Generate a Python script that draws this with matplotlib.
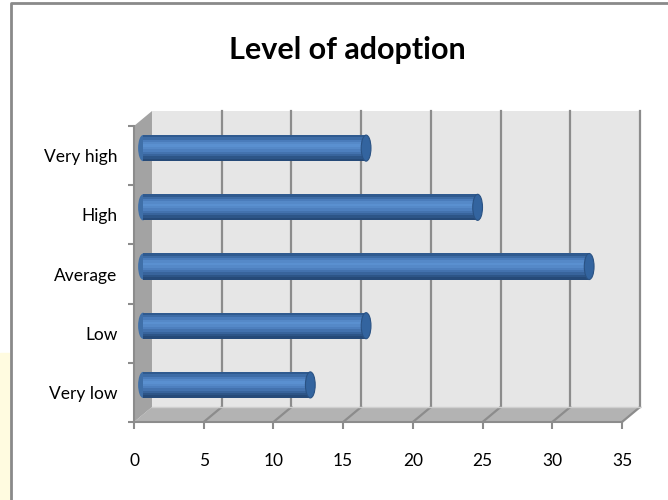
import numpy as np
import matplotlib.pyplot as plt
from matplotlib.patches import Polygon, Ellipse, Rectangle

plt.rcParams['font.family'] = ['Lato', 'DejaVu Sans']

# Dữ liệu
categories = ["Very low", "Low", "Average", "High", "Very high"]
values = [12, 16, 32, 24, 16]
x_ticks = [0, 5, 10, 15, 20, 25, 30, 35]

XMAX = 35
DX, DY = 1.29, 0.253          # độ sâu giả 3D (đơn vị dữ liệu)
BAR_H = 0.44

fig = plt.figure(figsize=(6.68, 5), dpi=100)

# khung ngoài + vùng vàng bên trái
fig.patches.append(Rectangle((0, 0), 10 / 668, 147 / 500, transform=fig.transFigure,
                             color="#fffbe0", zorder=0))
fig.lines.append(plt.Line2D([11 / 668, 11 / 668, 1.0], [0, 1 - 3 / 500, 1 - 3 / 500],
                            transform=fig.transFigure, color="#8a8a8a", lw=2))

ax = fig.add_axes([134 / 668, 78 / 500, 488 / 668, 296 / 500])
ax.set_xlim(0, XMAX)
ax.set_ylim(-0.5, len(categories) - 0.5)
ax.patch.set_visible(False)
top = len(categories) - 0.5

# tường sau, sàn, tường trái
ax.add_patch(Polygon([(DX, -0.5 + DY), (XMAX + DX, -0.5 + DY), (XMAX + DX, top + DY), (DX, top + DY)],
                     closed=True, fc="#e6e6e6", ec="none", clip_on=False, zorder=0.5))
ax.add_patch(Polygon([(0, -0.5), (XMAX, -0.5), (XMAX + DX, -0.5 + DY), (DX, -0.5 + DY)],
                     closed=True, fc="#b3b3b3", ec="none", clip_on=False, zorder=0.6))
ax.add_patch(Polygon([(0, -0.5), (DX, -0.5 + DY), (DX, top + DY), (0, top)],
                     closed=True, fc="#a3a3a3", ec="none", clip_on=False, zorder=0.6))

# lưới
for x in x_ticks[1:]:
    ax.plot([x + DX, x + DX], [-0.5 + DY, top + DY], color="#8c8c8c", lw=1.6, clip_on=False, zorder=1)
    ax.plot([x, x + DX], [-0.5, -0.5 + DY], color="#8c8c8c", lw=1.6, clip_on=False, zorder=1)
ax.plot([DX, XMAX + DX], [-0.5 + DY, -0.5 + DY], color="#cfcfcf", lw=1, clip_on=False, zorder=1)

# thanh hình trụ
y = np.arange(len(categories))
shades = ["#2f5a8f", "#3d6ca6", "#4a7cbb", "#5589c8", "#5a90d0", "#5589c8",
          "#4d7fbe", "#4372ae", "#38649c", "#2d5587", "#264a78"]
n = len(shades)
bx = DX / 2
by = DY / 2
for i, v in enumerate(values):
    yc = y[i] + by
    ax.add_patch(Ellipse((bx, yc), 0.7, BAR_H, fc="#3f6fa8", ec="none", zorder=2.9))
    for k, c in enumerate(shades):
        yk = yc + BAR_H / 2 - (k + 0.5) * BAR_H / n
        ax.barh(yk, v, height=BAR_H / n + 0.004, left=bx, color=c, edgecolor="none", zorder=3)
    ax.add_patch(Ellipse((bx + v, yc), 0.7, BAR_H, fc="#33649f", ec="#2a5283", lw=0.8,
                         clip_on=False, zorder=4))

# trục
for s in ["top", "right"]:
    ax.spines[s].set_visible(False)
for s in ["left", "bottom"]:
    ax.spines[s].set_color("#8c8c8c")
    ax.spines[s].set_linewidth(1.5)

ax.set_xticks(x_ticks)
ax.set_xticklabels([str(t) for t in x_ticks], fontsize=12.5)
ax.tick_params(axis="x", length=5, width=1.5, color="#8c8c8c", pad=17)

ax.set_yticks(np.arange(-0.5, len(categories), 1.0))
ax.set_yticklabels([])
ax.set_yticks(y, minor=True)
ax.set_yticklabels(categories, minor=True, fontsize=12.5)
ax.tick_params(axis="y", which="major", length=4, width=1.5, color="#8c8c8c")
ax.tick_params(axis="y", which="minor", length=0, pad=12)

fig.text(347 / 668, 1 - 50 / 500, "Level of adoption", ha="center", va="center",
         fontsize=22, fontweight="bold")

fig.savefig("out.png", dpi=100)
